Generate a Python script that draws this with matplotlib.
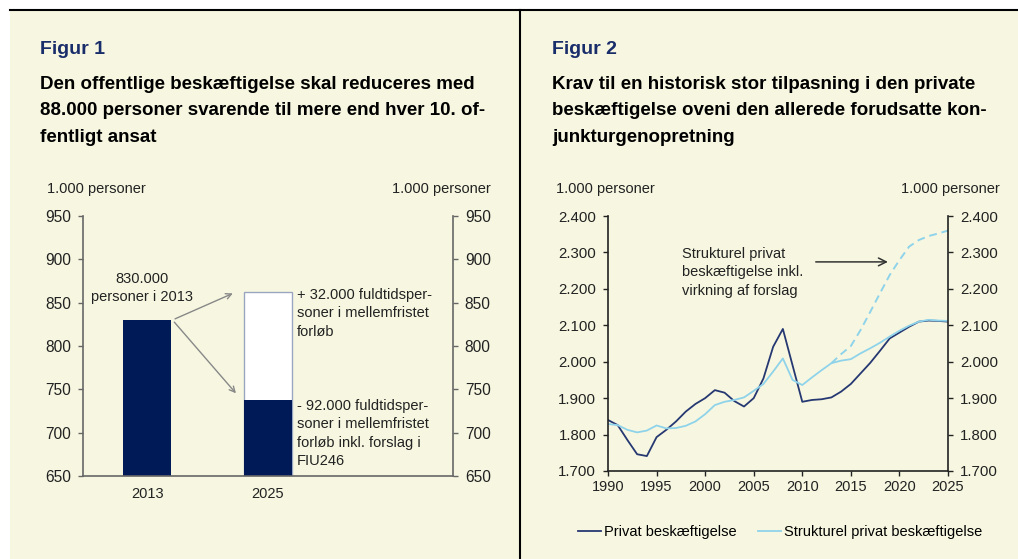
import matplotlib.pyplot as plt
from matplotlib.patches import Rectangle
from matplotlib.lines import Line2D

plt.rcParams['font.family'] = ['Liberation Sans', 'DejaVu Sans']

# Figur 1 data (1.000 personer)
kategorier = ['2013', '2025']
niveau = [830, 738]
mellemfristet_2025 = 862

# Figur 2 data (1.000 personer)
aar = list(range(1990, 2026))
privat = [1840, 1826, 1785, 1746, 1741, 1793, 1813, 1836, 1863, 1884,
          1900, 1922, 1915, 1892, 1877, 1900, 1954, 2041, 2090, 1990,
          1890, 1895, 1897, 1902, 1918, 1939, 1968, 1997, 2030, 2064,
          2080, 2096, 2110, 2113, 2112, 2110]
strukturel = [1829, 1826, 1813, 1806, 1811, 1825, 1817, 1818, 1824, 1836,
              1856, 1881, 1890, 1895, 1902, 1920, 1939, 1973, 2009, 1950,
              1936, 1957, 1977, 1996, 2003, 2007, 2023, 2037, 2052, 2069,
              2085, 2099, 2110, 2115, 2113, 2112]
aar_forslag = list(range(2013, 2026))
strukturel_forslag = [1996, 2021, 2043, 2087, 2137, 2188, 2238, 2279,
                      2316, 2334, 2345, 2352, 2360]

W, H = 1018, 559
creme = '#f7f7e1'
navy = '#001a57'
moerk = '#263872'
lysblaa = '#8fd3ea'
tekst = '#222222'

fig = plt.figure(figsize=(W / 100, H / 100), dpi=100, facecolor='white')


def px(x, y):
    return x / W, 1 - y / H


# baggrund og rammer
fig.patches.append(Rectangle((10 / W, 0), 1 - 10 / W, 1 - 10 / H,
                             transform=fig.transFigure, facecolor=creme,
                             edgecolor='none', zorder=-10))
fig.add_artist(Line2D([10 / W, 1], [1 - 10 / H] * 2, color='black', lw=1.5))
fig.add_artist(Line2D([520 / W] * 2, [0, 1 - 10 / H], color='black', lw=1.5))

# titler
fig.text(*px(40, 50), 'Figur 1', color='#1a2d6b', fontsize=14,
         fontweight='bold', va='center')
fig.text(*px(40, 76), 'Den offentlige beskæftigelse skal reduceres med\n'
         '88.000 personer svarende til mere end hver 10. of-\nfentligt ansat',
         fontsize=13.5, fontweight='bold', va='top', ha='left',
         linespacing=1.72)
fig.text(*px(552, 50), 'Figur 2', color='#1a2d6b', fontsize=14,
         fontweight='bold', va='center')
fig.text(*px(552, 76), 'Krav til en historisk stor tilpasning i den private\n'
         'beskæftigelse oveni den allerede forudsatte kon-\njunkturgenopretning',
         fontsize=13.5, fontweight='bold', va='top', ha='left',
         linespacing=1.72)


def style_axes(ax, ax2, farve, ysize):
    for a in (ax, ax2):
        a.set_facecolor('none')
        for s in a.spines.values():
            s.set_visible(False)
        a.tick_params(colors=farve, labelcolor=tekst, labelsize=10.5,
                      length=3.5, width=1, pad=5)
        a.tick_params(axis='y', labelsize=ysize)
    ax.spines['left'].set_visible(True)
    ax.spines['bottom'].set_visible(True)
    ax2.spines['right'].set_visible(True)
    for s in ('left', 'bottom'):
        ax.spines[s].set_color(farve)
        ax.spines[s].set_linewidth(1.2)
    ax2.spines['right'].set_color(farve)
    ax2.spines['right'].set_linewidth(1.2)


# ---- Figur 1 ----
ax1 = fig.add_axes([83 / W, (559 - 476) / H, 370 / W, 260 / H])
ax1r = ax1.twinx()
style_axes(ax1, ax1r, '#666666', 11.2)
pos = [0, 1]
ax1.bar(pos[1], mellemfristet_2025 - 650, bottom=650, width=0.4,
        facecolor='white', edgecolor='#9aa6bf', lw=1)
ax1.bar(pos, [v - 650 for v in niveau], bottom=650, width=0.4, color=navy)
for a in (ax1, ax1r):
    a.set_ylim(650, 950)
    a.set_yticks(range(650, 951, 50))
ax1.set_xlim(-0.53, 2.53)
ax1.set_xticks(pos)
ax1.set_xticklabels(kategorier)
ax1.tick_params(axis='x', length=0, pad=8)
ax1.text(-0.04, 848, '830.000\npersoner i 2013', ha='center', va='bottom',
         fontsize=10.5, color=tekst, linespacing=1.4)
ax1.annotate('', xy=(0.73, mellemfristet_2025), xytext=(0.21, niveau[0]),
             arrowprops=dict(arrowstyle='->', color='#888888', lw=1))
ax1.annotate('', xy=(0.75, 743), xytext=(0.21, niveau[0]),
             arrowprops=dict(arrowstyle='->', color='#888888', lw=1))
ax1.text(1.24, 867, '+ 32.000 fuldtidsper-\nsoner i mellemfristet\nforløb',
         ha='left', va='top', fontsize=10.5, color=tekst,
         linespacing=1.4)
ax1.text(1.24, 739, '- 92.000 fuldtidsper-\nsoner i mellemfristet\n'
         'forløb inkl. forslag i\nFIU246',
         ha='left', va='top', fontsize=10.5, color=tekst,
         linespacing=1.4)
fig.text(*px(47, 189), '1.000 personer', fontsize=10.5, va='center',
         color=tekst)
fig.text(*px(491, 189), '1.000 personer', fontsize=10.5, va='center',
         ha='right', color=tekst)

# ---- Figur 2 ----
ax2 = fig.add_axes([608 / W, (559 - 471) / H, 340 / W, 255 / H])
ax2r = ax2.twinx()
style_axes(ax2, ax2r, '#222222', 10.8)
ax2.plot(aar, privat, color=moerk, lw=1.3, label='Privat beskæftigelse')
ax2.plot(aar, strukturel, color=lysblaa, lw=1.3,
         label='Strukturel privat beskæftigelse')
ax2.plot(aar_forslag, strukturel_forslag, color=lysblaa, lw=1.4,
         ls=(0, (4, 2.5)))
ax2.set_xlim(1990, 2025)
ax2.set_xticks(range(1990, 2026, 5))
for a in (ax2, ax2r):
    a.set_ylim(1700, 2400)
    a.set_yticks(range(1700, 2401, 100))
    a.set_yticklabels([f'{v // 1000}.{v % 1000:03d}'
                       for v in range(1700, 2401, 100)])
ax2.tick_params(axis='x', pad=3)
ax2.text(1997.6, 2245, 'Strukturel privat\nbeskæftigelse inkl.\n'
         'virkning af forslag', ha='left', va='center', fontsize=10.5,
         color=tekst, linespacing=1.4)
ax2.annotate('', xy=(2019.1, 2274), xytext=(2011.1, 2274),
             arrowprops=dict(arrowstyle='->', color='#333333', lw=1.1,
                             mutation_scale=14))
fig.text(*px(556, 189), '1.000 personer', fontsize=10.5, va='center',
         color=tekst)
fig.text(*px(1000, 189), '1.000 personer', fontsize=10.5, va='center',
         ha='right', color=tekst)
fig.legend(handles=ax2.get_lines()[:2], loc='center',
           bbox_to_anchor=(780 / W, 1 - 532 / H), ncol=2, frameon=False,
           fontsize=10.5, handlelength=1.55, handletextpad=0.2,
           columnspacing=1.5)

fig.savefig('out.png', dpi=100, facecolor=fig.get_facecolor())
